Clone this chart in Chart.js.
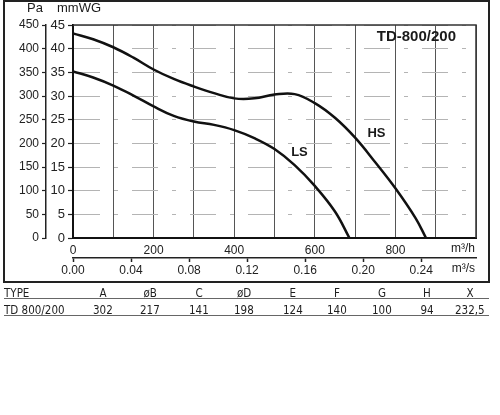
<!DOCTYPE html>
<html>
<head>
<meta charset="utf-8">
<script src="https://cdn.jsdelivr.net/npm/chart.js@4/dist/chart.umd.min.js"></script>
<style>
html,body{margin:0;padding:0;background:#fff;width:500px;height:415px;overflow:hidden;}
#frame{position:absolute;left:3px;top:0;width:487px;height:283px;border:2.5px solid #222;box-sizing:border-box;}
#wrap{position:absolute;left:0;top:0;width:500px;height:290px;}
.cell{position:absolute;font-family:"Liberation Sans Narrow","DejaVu Sans Condensed",sans-serif;font-size:11.5px;color:#1e1e1e;white-space:nowrap;line-height:14px;}
.rule{position:absolute;left:4px;width:485px;height:0;border-top:1px solid #666;}
</style>
</head>
<body>
<div id="frame"></div>
<div id="wrap"><canvas id="c" width="500" height="290"></canvas></div>
<div id="table"></div>
<script>
// ---- data ----
const hsFlow     = [0, 50, 100, 150, 200, 250, 300, 350, 400, 450, 500, 550, 600, 650, 700, 750, 800, 850, 876];
const hsPressure = [43.2, 42.0, 40.3, 38.1, 35.6, 33.6, 32.0, 30.6, 29.5, 29.5, 30.3, 30.4, 28.5, 25.4, 21.2, 16.0, 10.5, 4.2, 0];
const lsFlow     = [0, 50, 100, 150, 200, 250, 300, 350, 400, 450, 500, 550, 600, 650, 686];
const lsPressure = [35.2, 33.9, 32.2, 30.1, 27.8, 25.8, 24.6, 23.9, 22.8, 21.1, 18.8, 15.4, 11.0, 5.6, 0];

const flowGridTicks  = [0, 100, 200, 300, 400, 500, 600, 700, 800, 900, 1000];
const flowLabelTicks = [0, 200, 400, 600, 800];
const flowM3sTicks   = [0.00, 0.04, 0.08, 0.12, 0.16, 0.20, 0.24];
const mmwgTicks      = [0, 5, 10, 15, 20, 25, 30, 35, 40, 45];
const paTicks        = [0, 50, 100, 150, 200, 250, 300, 350, 400, 450];

const tableHeader = ['TYPE', 'A', 'øB', 'C', 'øD', 'E', 'F', 'G', 'H', 'X'];
const tableRow    = ['TD 800/200', '302', '217', '141', '198', '124', '140', '100', '94', '232,5'];

// ---- table ----
const colCenters = [null, 103, 150, 199, 244, 293, 337, 382, 427, 470];
const tbl = document.getElementById('table');
function addRow(cells, yc, lineY){
  cells.forEach((t,i)=>{
    const d = document.createElement('div');
    d.className='cell'; d.textContent=t;
    tbl.appendChild(d);
    const w = d.offsetWidth;
    d.style.top = (yc-7)+'px';
    d.style.left = (i===0 ? 4 : colCenters[i]-w/2)+'px';
  });
  const r = document.createElement('div'); r.className='rule'; r.style.top=lineY+'px'; tbl.appendChild(r);
}
addRow(tableHeader, 292.5, 298);
addRow(tableRow, 309.5, 315);

// ---- chart ----
const FONT = "'Liberation Sans', Arial, sans-serif";
const toPts = (xs, ys) => xs.map((x,i)=>({x, y: ys[i]}));

const textPlugin = {
  id: 'texts',
  afterDraw(chart){
    const {ctx, chartArea:a, scales:s} = chart;
    ctx.save();
    ctx.strokeStyle = '#333'; ctx.lineWidth = 1.5;
    ctx.beginPath(); ctx.moveTo(a.left, a.top); ctx.lineTo(a.right, a.top); ctx.lineTo(a.right, a.bottom); ctx.stroke();
    ctx.fillStyle = '#1a1a1a';
    ctx.textBaseline = 'middle';
    ctx.font = 'bold 15px ' + FONT; ctx.textAlign = 'right';
    ctx.fillText('TD-800/200', a.right - 20, a.top + 12);
    ctx.font = 'bold 13px ' + FONT; ctx.textAlign = 'center';
    ctx.fillText('HS', s.x.getPixelForValue(753), s.y.getPixelForValue(22));
    ctx.fillText('LS', s.x.getPixelForValue(562), s.y.getPixelForValue(18));
    ctx.font = '13px ' + FONT;
    ctx.textAlign = 'center'; ctx.fillText('Pa', s.ypa.right - 11, 8);
    ctx.textAlign = 'left'; ctx.fillText('mmWG', s.y.left + 11, 8);
    ctx.font = '12px ' + FONT; ctx.textAlign = 'right';
    ctx.fillText('m\u00b3/h', a.right - 1, 249);
    ctx.fillText('m\u00b3/s', a.right - 1, 269);
    ctx.restore();
  }
};

new Chart(document.getElementById('c'), {
  type: 'scatter',
  data: {
    datasets: [
      {label:'HS', data: toPts(hsFlow, hsPressure), showLine:true, borderColor:'#111', borderWidth:2.5, pointRadius:0, tension:0.4, xAxisID:'x', yAxisID:'y'},
      {label:'LS', data: toPts(lsFlow, lsPressure), showLine:true, borderColor:'#111', borderWidth:2.5, pointRadius:0, tension:0.4, xAxisID:'x', yAxisID:'y'}
    ]
  },
  options: {
    responsive:false, animation:false,
    layout:{padding:{left:14, right:24, top:25, bottom:12}},
    plugins:{legend:{display:false}, tooltip:{enabled:false}},
    scales:{
      x:{
        type:'linear', position:'bottom', min:0, max:1000, weight:0,
        afterBuildTicks: sc => { sc.ticks = flowGridTicks.map(v=>({value:v})); },
        afterFit: sc => { sc.height = 20; },
        ticks:{ autoSkip:false, maxRotation:0, padding:5, color:'#222', font:{family:FONT, size:12},
          callback: v => flowLabelTicks.includes(v) ? String(v) : '' },
        grid:{ color:'#555', lineWidth:1, drawTicks:false },
        border:{ color:'#111', width:2 }
      },
      x2:{
        type:'linear', position:'bottom', min:0, max:1000/3600, weight:1,
        afterBuildTicks: sc => { sc.ticks = flowM3sTicks.map(v=>({value:v})); },
        afterFit: sc => { sc.height = 20; },
        ticks:{ autoSkip:false, maxRotation:0, padding:1, color:'#222', font:{family:FONT, size:12},
          callback: v => v.toFixed(2) },
        grid:{ drawOnChartArea:false, drawTicks:true, tickLength:4, tickColor:'#222', tickWidth:1.5 },
        border:{ color:'#222', width:1.5 }
      },
      y:{
        type:'linear', position:'left', min:0, max:45, weight:0,
        afterBuildTicks: sc => { sc.ticks = mmwgTicks.map(v=>({value:v})); },
        afterFit: sc => { sc.width = 27; },
        ticks:{ autoSkip:false, padding:3, color:'#222', font:{family:FONT, size:13} },
        grid:{ color:'#b4b4b4', lineWidth:1, drawTicks:true, tickLength:5, tickColor:'#222', tickWidth:1.2 },
        border:{ color:'#111', width:2, dash:[26,14,4,14] }
      },
      ypa:{
        type:'linear', position:'left', min:0, max:450, weight:1,
        afterBuildTicks: sc => { sc.ticks = paTicks.map(v=>({value:v})); },
        afterFit: sc => { sc.width = 32; },
        ticks:{ autoSkip:false, padding:3, color:'#222', font:{family:FONT, size:12} },
        grid:{ drawOnChartArea:false, drawTicks:true, tickLength:4, tickColor:'#222', tickWidth:1.2 },
        border:{ color:'#222', width:1.5 }
      }
    }
  },
  plugins:[textPlugin]
});
</script>
</body>
</html>
